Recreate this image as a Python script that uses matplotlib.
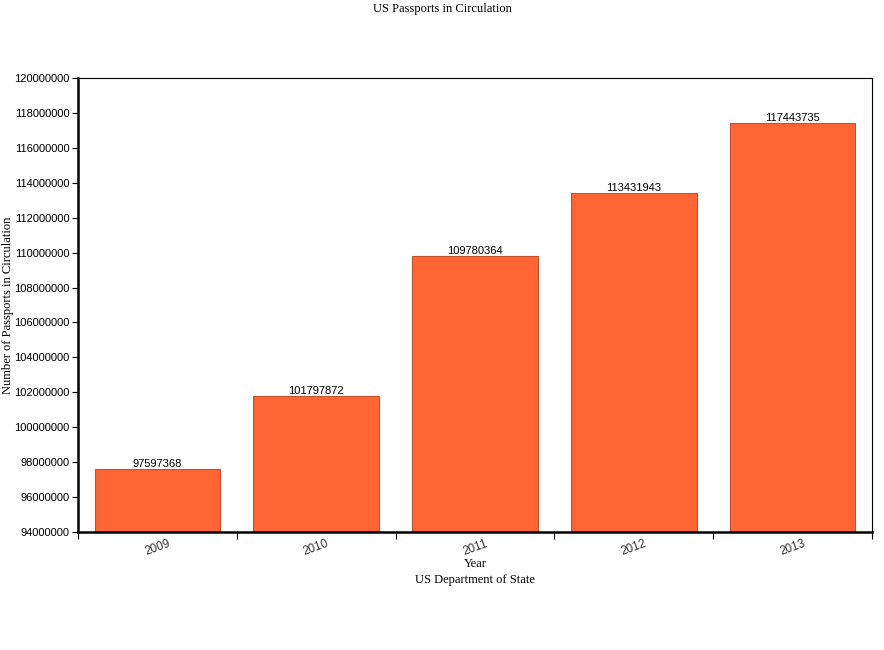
import numpy as np
import matplotlib
matplotlib.use("Agg")
import matplotlib.pyplot as plt
from matplotlib.ticker import FixedLocator

years = ["2009", "2010", "2011", "2012", "2013"]
passports = [97597368, 101797872, 109780364, 113431943, 117443735]
yticks = list(range(94000000, 120000001, 2000000))

serif = ["Liberation Serif", "DejaVu Serif"]
sans = ["Liberation Sans", "DejaVu Sans"]

fig = plt.figure(figsize=(8.84, 6.5), dpi=100)
ax = fig.add_axes([78 / 884, 1 - 532 / 650, (872 - 78) / 884, (532 - 78) / 650])

x = np.arange(len(years))
bars = ax.bar(x, passports, width=0.79, color="#FF6633", edgecolor="#C8502A", linewidth=0.8,
              bottom=0, zorder=2)
for xi, v in zip(x, passports):
    ax.text(xi, v, str(v), ha="center", va="bottom", fontsize=8, family=sans, color="black")

ax.set_xlim(-0.5, len(years) - 0.5)
ax.set_ylim(94000000, 120000000)
ax.set_yticks(yticks)
ax.set_yticklabels([str(t) for t in yticks], fontsize=8, family=sans)

# ticks at category edges, labels at centres
ax.xaxis.set_major_locator(FixedLocator(np.arange(-0.5, len(years), 1.0)))
ax.xaxis.set_minor_locator(FixedLocator(x))
ax.set_xticklabels([""] * (len(years) + 1))
ax.set_xticklabels(years, minor=True, rotation=20, fontsize=8.5, family=sans, color="#333333")
ax.tick_params(axis="x", which="major", length=5, width=0.8, direction="out")
ax.tick_params(axis="x", which="minor", length=0, pad=4)
ax.tick_params(axis="y", length=4, width=0.8, direction="out", pad=2)

ax.spines["left"].set_linewidth(1.8)
ax.spines["bottom"].set_linewidth(1.8)
ax.spines["top"].set_linewidth(0.8)
ax.spines["right"].set_linewidth(0.8)

fig.text(8 / 884, 1 - 305 / 650, "Number of Passports in Circulation", rotation=90,
         ha="center", va="center", fontsize=9, family=serif)
fig.text(475 / 884, 1 - 564 / 650, "Year", ha="center", va="center", fontsize=9, family=serif)
fig.text(475 / 884, 1 - 580 / 650, "US Department of State", ha="center", va="center",
         fontsize=9, family=serif)
fig.text(442 / 884, 1 - 9 / 650, "US Passports in Circulation", ha="center", va="center",
         fontsize=9, family=serif)

fig.savefig("out.png", dpi=100)
